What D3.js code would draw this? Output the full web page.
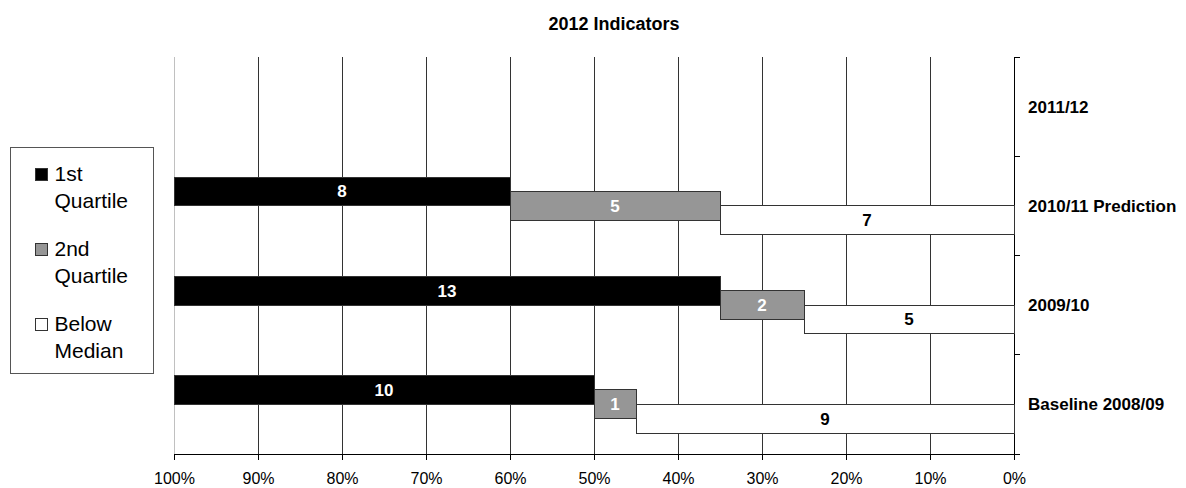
<!DOCTYPE html>
<html>
<head>
<meta charset="utf-8">
<script src="https://cdn.jsdelivr.net/npm/d3@7"></script>
<style>
  body { margin: 0; background: #fff; }
  text { font-family: Arial, "Liberation Sans", sans-serif; }
</style>
</head>
<body>
<div id="chart"></div>
<script>
var categories = ["2011/12", "2010/11 Prediction", "2009/10", "Baseline 2008/09"];
var firstQuartile = [null, 8, 13, 10];
var secondQuartile = [null, 5, 2, 1];
var belowMedian = [null, 7, 5, 9];
var seriesNames = ["1st Quartile", "2nd Quartile", "Below Median"];
var legendLines = [["1st", "Quartile"], ["2nd", "Quartile"], ["Below", "Median"]];
var xTicks = [1, 0.9, 0.8, 0.7, 0.6, 0.5, 0.4, 0.3, 0.2, 0.1, 0];

var width = 1186, height = 488;
var margin = { top: 57, right: 172, bottom: 34, left: 174 };

var svg = d3.select("#chart").append("svg")
  .attr("width", width)
  .attr("height", height);

var x = d3.scaleLinear()
  .domain([1, 0])
  .range([margin.left, width - margin.right]);

var y = d3.scaleBand()
  .domain(categories)
  .range([margin.top, height - margin.bottom])
  .padding(0);

var colors = ["#000000", "#969696", "#ffffff"];
var labelColors = ["#ffffff", "#ffffff", "#000000"];
var barH = y.bandwidth() * 0.29;

// title
svg.append("text")
  .attr("x", 614)
  .attr("y", 30)
  .attr("text-anchor", "middle")
  .style("font-size", "18px")
  .style("font-weight", "bold")
  .text("2012 Indicators");

// vertical gridlines
svg.append("g")
  .selectAll("line")
  .data(xTicks)
  .enter()
  .append("line")
  .attr("x1", function (d) { return x(d); })
  .attr("x2", function (d) { return x(d); })
  .attr("y1", y.range()[0])
  .attr("y2", y.range()[1])
  .attr("stroke", function (d) { return d === 1 ? "#c0c0c0" : "#333"; })
  .attr("stroke-width", 1)
  .attr("shape-rendering", "crispEdges");

// bottom axis
var xAxis = svg.append("g")
  .attr("transform", "translate(0," + y.range()[1] + ")")
  .call(d3.axisBottom(x).tickValues(xTicks).tickFormat(d3.format(".0%")).tickSize(6).tickSizeOuter(0));
xAxis.select(".domain").remove();
xAxis.selectAll("line").attr("stroke", "#000").attr("shape-rendering", "crispEdges");
xAxis.selectAll("text")
  .attr("y", 19)
  .attr("dy", "0.71em")
  .style("font-size", "16px")
  .style("font-family", "Arial, 'Liberation Sans', sans-serif")
  .attr("fill", "#000");
xAxis.append("line")
  .attr("x1", x(1)).attr("x2", x(0) + 6)
  .attr("y1", 0).attr("y2", 0)
  .attr("stroke", "#000")
  .attr("shape-rendering", "crispEdges");

// right axis with ticks at category boundaries
var bounds = categories.map(function (c) { return y(c); }).concat([y.range()[1]]);
var yAxis = svg.append("g");
yAxis.append("line")
  .attr("x1", x(0)).attr("x2", x(0))
  .attr("y1", y.range()[0]).attr("y2", y.range()[1])
  .attr("stroke", "#000")
  .attr("shape-rendering", "crispEdges");
yAxis.selectAll(".tick")
  .data(bounds)
  .enter()
  .append("line")
  .attr("x1", x(0)).attr("x2", x(0) + 6)
  .attr("y1", function (d) { return d; })
  .attr("y2", function (d) { return d; })
  .attr("stroke", "#000")
  .attr("shape-rendering", "crispEdges");
yAxis.selectAll("text")
  .data(categories)
  .enter()
  .append("text")
  .attr("x", x(0) + 14)
  .attr("y", function (d) { return y(d) + y.bandwidth() / 2; })
  .attr("dy", "0.35em")
  .style("font-size", "17px")
  .style("font-weight", "bold")
  .text(function (d) { return d; });

// bars
var rows = categories.map(function (c, i) {
  var vals = [firstQuartile[i], secondQuartile[i], belowMedian[i]];
  if (vals[0] == null) return null;
  var total = d3.sum(vals);
  var start = 1;
  return vals.map(function (v, s) {
    var seg = { cat: c, s: s, v: v, x0: start, x1: start - v / total };
    start = seg.x1;
    return seg;
  });
}).filter(function (r) { return r; });
var segs = [].concat.apply([], rows);

function barY(d) {
  var mid = y(d.cat) + y.bandwidth() / 2;
  return mid - barH + d.s * barH / 2;
}

svg.append("g")
  .selectAll("rect")
  .data(segs)
  .enter()
  .append("rect")
  .attr("x", function (d) { return x(d.x0); })
  .attr("y", barY)
  .attr("width", function (d) { return x(d.x1) - x(d.x0); })
  .attr("height", barH)
  .attr("fill", function (d) { return colors[d.s]; })
  .attr("stroke", "#333")
  .attr("stroke-width", 1)
  .attr("shape-rendering", "crispEdges");

svg.append("g")
  .selectAll("text")
  .data(segs)
  .enter()
  .append("text")
  .attr("x", function (d) { return (x(d.x0) + x(d.x1)) / 2; })
  .attr("y", function (d) { return barY(d) + barH / 2; })
  .attr("dy", "0.35em")
  .attr("text-anchor", "middle")
  .style("font-size", "17px")
  .style("font-weight", "bold")
  .attr("fill", function (d) { return labelColors[d.s]; })
  .text(function (d) { return d.v; });

// legend
var legend = svg.append("g").attr("transform", "translate(10.5,147.5)");
legend.append("rect")
  .attr("width", 143)
  .attr("height", 226)
  .attr("fill", "#fff")
  .attr("stroke", "#555");
var item = legend.selectAll(".item")
  .data(seriesNames)
  .enter()
  .append("g")
  .attr("transform", function (d, i) { return "translate(0," + (i * 75) + ")"; });
item.append("rect")
  .attr("x", 25).attr("y", 21)
  .attr("width", 12).attr("height", 12)
  .attr("fill", function (d, i) { return colors[i]; })
  .attr("stroke", "#333");
item.append("text")
  .attr("x", 44)
  .attr("y", 33)
  .style("font-size", "21px")
  .selectAll("tspan")
  .data(function (d, i) { return legendLines[i]; })
  .enter()
  .append("tspan")
  .attr("x", 44)
  .attr("dy", function (d, j) { return j === 0 ? 0 : 27; })
  .text(function (d) { return d; });
</script>
</body>
</html>
